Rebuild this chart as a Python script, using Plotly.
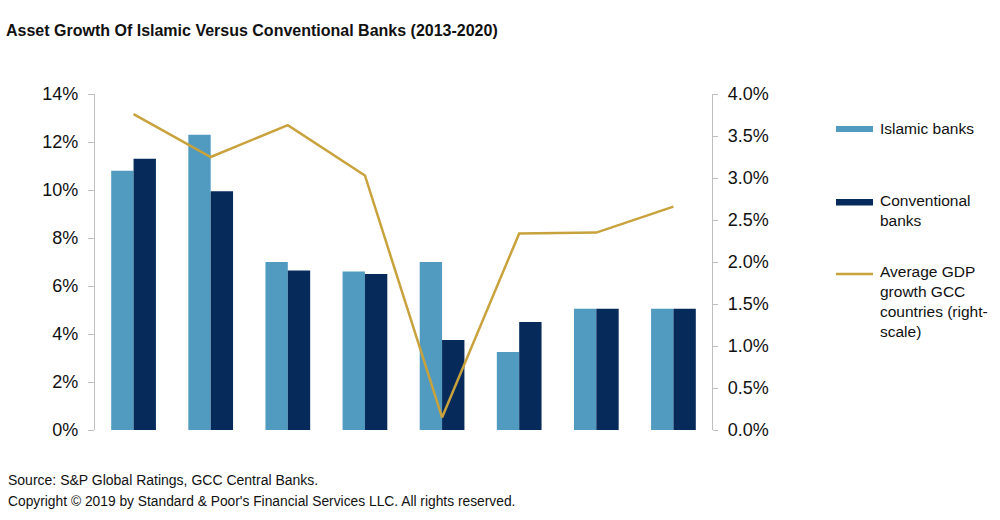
import plotly.graph_objects as go

years = ["2013", "2014", "2015", "2016", "2017", "2018", "2019", "2020"]
islamic = [10.8, 12.3, 7.0, 6.6, 7.0, 3.25, 5.05, 5.05]
conventional = [11.3, 9.95, 6.65, 6.5, 3.75, 4.5, 5.05, 5.05]
gdp = [3.76, 3.25, 3.63, 3.03, 0.15, 2.34, 2.35, 2.66]

islamic_frac = [v / 100 for v in islamic]
conv_frac = [v / 100 for v in conventional]
gdp_frac = [v / 100 for v in gdp]

C_ISL = "#519BC1"
C_CONV = "#062B5B"
C_GDP = "#C8A23C"
GRID = "#BFBFBF"
FONT = "Liberation Sans, Arial, sans-serif"

fig = go.Figure()
fig.add_trace(go.Bar(x=years, y=islamic_frac, name="Islamic banks", marker_color=C_ISL,
                     marker_line_width=0, showlegend=False))
fig.add_trace(go.Bar(x=years, y=conv_frac, name="Conventional banks", marker_color=C_CONV,
                     marker_line_width=0, showlegend=False))
fig.add_trace(go.Scatter(x=years, y=gdp_frac, yaxis="y2", mode="lines",
                         line=dict(color=C_GDP, width=2.5), showlegend=False,
                         name="Average GDP growth GCC countries (right-scale)"))

fig.update_layout(
    width=1000, height=520,
    margin=dict(l=95, r=288, t=94, b=90),
    paper_bgcolor="white", plot_bgcolor="white",
    barmode="group", bargap=0.42, bargroupgap=0,
    font=dict(family=FONT, color="#111111"),
    title=dict(text="<b>Asset Growth Of Islamic Versus Conventional Banks (2013-2020)</b>",
               x=0.006, xref="container", xanchor="left",
               y=1 - 30 / 520, yref="container", yanchor="middle",
               font=dict(size=16, family=FONT, color="#111111")),
    xaxis=dict(showticklabels=False, showline=False, showgrid=False, zeroline=False,
               ticks=""),
    yaxis=dict(range=[0, 0.14], dtick=0.02, tickformat=".0%", showgrid=False, zeroline=False,
               showline=True, linecolor=GRID, linewidth=1.3, ticks="outside", ticklen=6,
               tickcolor=GRID, tickfont=dict(size=18, family=FONT, color="#111111"),
               ticklabelstandoff=6),
    yaxis2=dict(range=[0, 0.04], dtick=0.005, tickformat=".1%", overlaying="y", side="right",
                showgrid=False, zeroline=False, showline=True, linecolor=GRID, linewidth=1.3,
                ticks="outside", ticklen=5, tickcolor=GRID,
                tickfont=dict(size=18, family=FONT, color="#111111"),
                ticklabelstandoff=6),
)

# manual legend (paper coordinates converted from pixels)
def px_x(px):
    return (px - 95) / (1000 - 95 - 288)

def px_y(py):
    return (520 - 90 - py) / (520 - 94 - 90)

fig.add_shape(type="rect", xref="paper", yref="paper",
              x0=px_x(836), x1=px_x(873), y0=px_y(132), y1=px_y(126),
              fillcolor=C_ISL, line_width=0)
fig.add_shape(type="rect", xref="paper", yref="paper",
              x0=px_x(836), x1=px_x(873), y0=px_y(205.5), y1=px_y(199),
              fillcolor=C_CONV, line_width=0)
fig.add_shape(type="line", xref="paper", yref="paper",
              x0=px_x(836), x1=px_x(873), y0=px_y(274), y1=px_y(274),
              line=dict(color=C_GDP, width=2.5))

legend_texts = [
    ("Islamic banks", 128.5),
    ("Conventional<br>banks", 210),
    ("Average GDP<br>growth GCC<br>countries (right-<br>scale)", 301.5),
]
for txt, cy in legend_texts:
    fig.add_annotation(text=txt, xref="paper", yref="paper", x=px_x(878), y=px_y(cy),
                       xanchor="left", yanchor="middle", align="left", showarrow=False,
                       font=dict(size=15.5, family=FONT, color="#111111"))

fig.add_annotation(text="Source: S&P Global Ratings, GCC Central Banks.",
                   xref="paper", yref="paper", x=px_x(6), y=px_y(480),
                   xanchor="left", yanchor="middle", showarrow=False,
                   font=dict(size=14, family=FONT, color="#111111"))
fig.add_annotation(text="Copyright © 2019 by Standard & Poor's Financial Services LLC. All rights reserved.",
                   xref="paper", yref="paper", x=px_x(6), y=px_y(502),
                   xanchor="left", yanchor="middle", showarrow=False,
                   font=dict(size=13.8, family=FONT, color="#111111"))

fig.write_html("out.html", config={"displayModeBar": False},
               post_script="document.body.style.margin='0';document.body.style.padding='0';")
